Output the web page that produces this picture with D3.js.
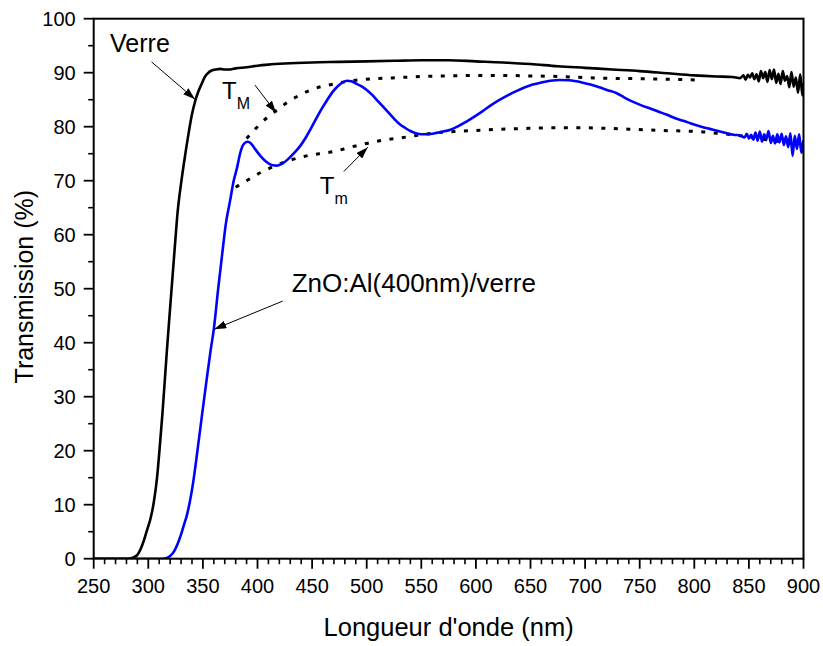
<!DOCTYPE html>
<html>
<head>
<meta charset="utf-8">
<script src="https://cdn.jsdelivr.net/npm/d3@7"></script>
<style>
  html, body { margin: 0; padding: 0; background: #fff; }
  svg { display: block; font-family: "Liberation Sans", Arial, sans-serif; }
</style>
</head>
<body>
<svg id="chart" width="823" height="646"></svg>
<script>
// Wavelength (nm) / transmission (%) samples for bare glass
const verreNm = [250,260,270,280,284,287,290,293,296,299,302,305,308,310,313,317,320,324,327,330,332,335,337,340,343,346,349,352,355,358,362,366,370,375,380,390,400,410,425,450,475,500,525,550,575,600,625,650,675,700,725,750,775,800,820,835,842,845,847,849,851,853,855,857,859,861,863,865,867,869,871,873,875,877,879,881,883,885,887,889,891,893,895,897,899,900];
const verreT  = [0,0,0,0,0.1,0.3,0.7,1.8,3.4,5.4,7.4,10.4,15,19.5,27,38.5,46.5,57,64.5,69.5,72.4,76.4,78.9,82.3,84.8,86.6,88.0,89.3,90.0,90.4,90.6,90.7,90.6,90.6,90.8,91.0,91.3,91.5,91.7,91.9,92.0,92.1,92.2,92.3,92.3,92.1,91.9,91.6,91.2,90.9,90.6,90.3,89.9,89.5,89.3,89.2,89.0,89.5,88.7,89.6,89.1,89.9,88.8,89.7,88.4,90.3,89.0,90.1,88.3,90.5,88.8,90.6,88.1,89.8,87.9,90.3,88.5,89.4,87.3,90.1,87.4,89.1,86.3,89.7,85.8,88.1];

// ZnO:Al (400 nm) film on glass
const zncNm = [250,280,300,310,316,320,324,327,330,333,335,338,341,345,349,353,357,360,364,368,371,375,378,381.5,384,386,388,391,394,398,403,408,413,418,423,428,433,439,444,449,454,459,464,469,474,478,482,486,490,495,500,505,510,515,520,525,530,535,540,545,550,555,560,565,570,576,583,591,599,607,614,622,630,637,645,652,660,668,677,685,692,698,705,713,720,729,736,744,751,759,767,775,782,790,797,805,812,820,828,836,842,846,848,850,852,854,856,858,860,862,864,866,868,870,872,874,876,878,880,882,884,886,888,890,892,894,896,898,900];
const zncT  = [0,0,0,0,0.1,0.5,1.5,2.8,4.5,6.5,7.8,10.5,14,20,26.3,32.5,38.5,42.5,50,57,62,66.4,69.8,72.6,75,76.3,76.9,77.2,76.9,75.8,74.5,73.5,72.9,72.8,73.2,74.0,75.0,76.4,77.9,79.7,81.6,83.4,85.0,86.5,87.6,88.2,88.5,88.4,88.0,87.5,86.8,85.9,84.8,83.7,82.6,81.5,80.5,79.8,79.2,78.8,78.6,78.6,78.7,78.9,79.1,79.4,80.0,80.9,81.9,83.0,84.0,85.0,85.9,86.6,87.3,87.8,88.2,88.5,88.65,88.6,88.4,88.15,87.8,87.3,86.8,86.2,85.4,84.6,84.0,83.4,82.8,82.2,81.6,81.1,80.6,80.1,79.7,79.3,78.9,78.5,78.4,78.0,78.7,77.8,78.5,77.6,78.9,77.4,79.1,77.2,78.6,77.7,79.2,77.0,78.3,76.9,78.6,77.1,78.7,76.6,78.2,76.2,78.8,74.6,78.3,75.9,78.6,75.2,77.5];

// Upper envelope T_M (through interference maxima)
const tMaxNm = [390,400,410,418,428,439,450,460,470,480,490,510,530,550,575,600,625,650,675,700,725,750,775,802];
const tMaxT  = [77.8,80.0,81.9,83.1,84.6,85.9,86.9,87.5,87.9,88.3,88.6,88.9,89.1,89.3,89.4,89.5,89.5,89.4,89.3,89.1,88.95,88.9,88.8,88.65];

// Lower envelope T_m (through interference minima)
const tMinNm = [380,390,400,410,418,430,445,460,470,485,500,515,530,550,560,580,600,620,650,677,700,720,745,770,790,805,820,836,850,866,880,900];
const tMinT  = [68.8,70.0,71.2,72.2,72.9,73.8,74.6,75.1,75.4,76.2,76.9,77.5,77.9,78.5,78.8,79.1,79.3,79.5,79.7,79.8,79.8,79.7,79.5,79.3,79.2,79.1,78.8,78.5,78.1,77.6,77.2,76.7];

// Axis ticks
const xMajorTicks = [250,300,350,400,450,500,550,600,650,700,750,800,850,900];
const yMajorTicks = [0,10,20,30,40,50,60,70,80,90,100];

const svg = d3.select("#chart");
const plotL = 93.7, plotR = 803.5, plotT = 18.7, plotB = 558.7;

const x = d3.scaleLinear().domain([250, 900]).range([plotL, plotR]);
const y = d3.scaleLinear().domain([0, 100]).range([plotB, plotT]);

const pairs = (xs, ys) => xs.map((v, i) => [v, ys[i]]);
const line = d3.line().x(d => x(d[0])).y(d => y(d[1])).curve(d3.curveMonotoneX);

const defs = svg.append("defs");
defs.append("clipPath").attr("id", "plot-clip")
  .append("rect").attr("x", plotL).attr("y", plotT)
  .attr("width", plotR - plotL).attr("height", plotB - plotT);

defs.append("marker")
  .attr("id", "arrowhead").attr("viewBox", "0 0 12 8")
  .attr("refX", 12).attr("refY", 4)
  .attr("markerWidth", 12).attr("markerHeight", 8)
  .attr("markerUnits", "userSpaceOnUse").attr("orient", "auto")
  .append("path").attr("d", "M0,0 L12,4 L0,8 Z").attr("fill", "#000");

const plot = svg.append("g").attr("clip-path", "url(#plot-clip)");

// Envelopes (dotted)
[[tMaxNm, tMaxT], [tMinNm, tMinT]].forEach(([xs, ys]) => {
  plot.append("path")
    .datum(pairs(xs, ys))
    .attr("d", line)
    .attr("fill", "none").attr("stroke", "#000")
    .attr("stroke-width", 3).attr("stroke-dasharray", "4,8.5");
});

// Spectra
plot.append("path")
  .datum(pairs(verreNm, verreT))
  .attr("d", line)
  .attr("fill", "none").attr("stroke", "#000")
  .attr("stroke-width", 2.6).attr("stroke-linejoin", "round");

plot.append("path")
  .datum(pairs(zncNm, zncT))
  .attr("d", line)
  .attr("fill", "none").attr("stroke", "#0000ff")
  .attr("stroke-width", 2.6).attr("stroke-linejoin", "round");

// Frame
svg.append("rect")
  .attr("x", plotL).attr("y", plotT)
  .attr("width", plotR - plotL).attr("height", plotB - plotT)
  .attr("fill", "none").attr("stroke", "#000").attr("stroke-width", 2);

// X axis: minor ticks every 10 nm, major every 50 nm
const xMinor = d3.range(250, 901, 10).filter(v => !xMajorTicks.includes(v));
svg.append("g").selectAll("line").data(xMinor).join("line")
  .attr("x1", d => x(d)).attr("x2", d => x(d))
  .attr("y1", plotB).attr("y2", plotB + 5.5)
  .attr("stroke", "#000").attr("stroke-width", 1.6);
svg.append("g").selectAll("line").data(xMajorTicks).join("line")
  .attr("x1", d => x(d)).attr("x2", d => x(d))
  .attr("y1", plotB).attr("y2", plotB + 10)
  .attr("stroke", "#000").attr("stroke-width", 1.8);
svg.append("g").selectAll("text").data(xMajorTicks).join("text")
  .attr("x", d => x(d)).attr("y", plotB + 34.5)
  .attr("text-anchor", "middle").attr("font-size", 20)
  .text(d => d);

// Y axis: minor ticks every 5 %, major every 10 %
const yMinor = d3.range(5, 100, 10);
svg.append("g").selectAll("line").data(yMinor).join("line")
  .attr("x1", plotL).attr("x2", plotL - 5.5)
  .attr("y1", d => y(d)).attr("y2", d => y(d))
  .attr("stroke", "#000").attr("stroke-width", 1.6);
svg.append("g").selectAll("line").data(yMajorTicks).join("line")
  .attr("x1", plotL).attr("x2", plotL - 10)
  .attr("y1", d => y(d)).attr("y2", d => y(d))
  .attr("stroke", "#000").attr("stroke-width", 1.8);
svg.append("g").selectAll("text").data(yMajorTicks).join("text")
  .attr("x", plotL - 18).attr("y", d => y(d) + 7)
  .attr("text-anchor", "end").attr("font-size", 20)
  .text(d => d);

// Axis titles
svg.append("text")
  .attr("x", (plotL + plotR) / 2).attr("y", 636)
  .attr("text-anchor", "middle").attr("font-size", 25.5)
  .text("Longueur d'onde (nm)");
svg.append("text")
  .attr("transform", `translate(33,${(plotT + plotB) / 2 - 2}) rotate(-90)`)
  .attr("text-anchor", "middle").attr("font-size", 25)
  .text("Transmission (%)");

// Annotations: label text and arrows, positioned in data coordinates
const arrows = [
  { from: [303, 92.0], to: [342.7, 85.1] },
  { from: [397.7, 87.7], to: [417, 82.6] },
  { from: [479, 71.7], to: [501, 76.2] },
  { from: [423, 47.7], to: [360.4, 42.5] }
];
svg.append("g").selectAll("line").data(arrows).join("line")
  .attr("x1", d => x(d.from[0])).attr("y1", d => y(d.from[1]))
  .attr("x2", d => x(d.to[0])).attr("y2", d => y(d.to[1]))
  .attr("stroke", "#000").attr("stroke-width", 1)
  .attr("marker-end", "url(#arrowhead)");

svg.append("text")
  .attr("x", x(265)).attr("y", y(93.8))
  .attr("font-size", 25).text("Verre");

const tM = svg.append("text").attr("x", x(367.5)).attr("y", y(85.1)).attr("font-size", 24);
tM.append("tspan").text("T");
tM.append("tspan").attr("dy", 10).attr("font-size", 16).text("M");

const tm = svg.append("text").attr("x", x(457)).attr("y", y(67.5)).attr("font-size", 24);
tm.append("tspan").text("T");
tm.append("tspan").attr("dy", 10).attr("font-size", 16).text("m");

svg.append("text")
  .attr("x", x(431.3)).attr("y", y(49.4))
  .attr("font-size", 26).text("ZnO:Al(400nm)/verre");
</script>
</body>
</html>
